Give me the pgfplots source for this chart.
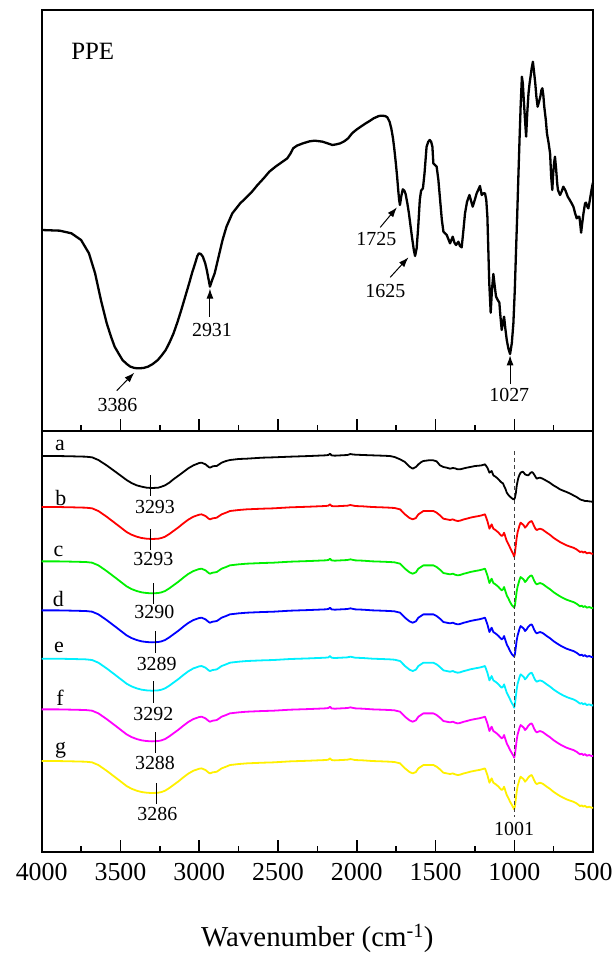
\documentclass[border=0pt]{standalone}
\usepackage{fontspec}
\setmainfont{Liberation Serif}
\usepackage{pgfplots}
\pgfplotsset{compat=1.18}
\usepackage{pgfplotstable}
\usetikzlibrary{arrows.meta}

\definecolor{cA}{RGB}{0,0,0}
\definecolor{cB}{RGB}{255,0,0}
\definecolor{cC}{RGB}{0,240,0}
\definecolor{cD}{RGB}{0,0,255}
\definecolor{cE}{RGB}{0,240,255}
\definecolor{cF}{RGB}{255,0,255}
\definecolor{cG}{RGB}{255,240,0}

\pgfplotstableread{
wn y
4000 690
3885 692
3811 700
3750 720
3700 760
3661 820
3624 900
3587 970
3560 1010
3537 1040
3510 1062
3487 1080
3460 1092
3437 1100
3410 1104
3387 1105
3355 1104
3325 1100
3295 1092
3263 1080
3238 1066
3213 1050
3188 1027
3163 1000
3138 966
3114 930
3089 890
3064 850
3045 818
3026 790
3012 768
3002 760
2990 762
2977 770
2962 790
2952 810
2940 840
2932 860
2918 840
2902 820
2877 770
2852 720
2827 680
2790 640
2740 610
2700 592
2665 575
2630 555
2591 535
2555 515
2516 500
2480 488
2441 475
2420 460
2404 445
2380 437
2342 430
2300 424
2267 422
2217 425
2185 430
2155 435
2130 433
2105 430
2080 424
2055 415
2030 400
2005 390
1975 380
1943 370
1915 362
1893 355
1860 348
1844 347
1820 348
1806 352
1792 365
1781 385
1770 415
1761 450
1752 490
1744 530
1737 570
1731 600
1726 615
1718 590
1708 568
1698 572
1690 582
1679 610
1669 640
1650 710
1638 750
1630 768
1620 745
1610 680
1600 600
1592 572
1580 565
1570 520
1557 440
1546 425
1537 420
1528 425
1520 440
1514 490
1493 500
1482 540
1471 600
1460 660
1450 695
1429 705
1408 730
1391 710
1380 728
1370 735
1355 725
1345 738
1334 742
1323 690
1313 640
1300 605
1285 585
1264 620
1250 598
1239 580
1218 558
1207 585
1196 580
1186 580
1178 600
1171 650
1165 750
1159 850
1150 938
1142 870
1133 822
1124 860
1116 890
1105 900
1095 908
1088 950
1080 990
1072 965
1065 950
1056 990
1048 1020
1038 1045
1027 1062
1016 1030
1006 970
997 870
989 750
982 650
975 540
967 420
960 320
952 230
946 250
940 300
932 360
925 410
918 340
910 280
903 250
897 230
890 205
882 185
875 215
867 250
860 290
852 320
843 305
835 290
828 270
822 265
816 285
810 320
800 360
793 400
782 430
773 460
766 530
759 570
753 520
748 490
742 470
735 505
728 550
723 570
710 585
700 575
689 560
675 572
661 590
648 600
636 610
625 620
614 640
604 655
595 650
587 650
581 675
576 698
569 670
561 640
551 610
545 608
540 615
535 622
530 625
524 610
517 590
510 570
502 550
500 548
}\ppe

\pgfplotstableread{
wn a b c d e f g
4000 110 263 426 573 718 870 1025
3900 110 263 426 573 718 870 1025
3800 111 264 427 574 719 871 1026
3720 112 265 428 575 720 872 1027
3680 114 267 430 577 722 874 1029
3640 122 275 438 585 730 882 1037
3588 138 292 455 602 747 899 1054
3524 160 315 478 625 770 922 1077
3461 182 338 501 648 793 945 1100
3430 191 346 509 656 801 953 1108
3397 198 352 515 662 807 959 1114
3365 202 356 519 666 811 963 1118
3334 205 358 521 668 813 965 1120
3300 206 359 522 669 814 966 1121
3260 205 358 521 668 813 965 1120
3240 202 356 519 666 811 963 1118
3217 198 352 515 662 807 959 1114
3190 190 344 507 654 799 951 1106
3164 180 335 498 645 790 942 1097
3132 169 324 487 634 779 931 1086
3101 158 312 475 622 767 919 1074
3070 147 301 464 611 756 908 1063
3037 138 292 455 602 747 899 1054
3000 131 286 449 596 741 893 1048
2985 130 285 448 595 740 892 1047
2960 135 290 453 600 745 897 1052
2940 143 298 461 608 753 905 1060
2932 145 300 463 610 755 907 1062
2915 141 297 460 607 752 904 1059
2900 140 296 459 606 751 903 1058
2889 140 295 458 605 750 902 1057
2870 134 289 452 599 744 896 1051
2858 130 285 448 595 740 892 1047
2830 125 280 443 590 735 887 1042
2805 122 275 438 585 730 882 1037
2750 119 272 435 582 727 879 1034
2699 118 270 433 580 725 877 1032
2600 115 268 431 578 723 875 1030
2530 114 267 430 577 722 874 1029
2424 112 264 427 574 719 871 1026
2300 110 262 425 572 717 869 1024
2200 108 260 423 570 715 867 1022
2180 107 259 422 569 714 866 1021
2170 103 255 418 565 710 862 1017
2160 108 260 423 570 715 867 1022
2140 109 261 424 571 716 868 1023
2100 108 260 423 570 715 867 1022
2060 107 259 422 569 714 866 1021
2040 104 257 420 567 712 864 1019
2030 105 258 421 568 713 865 1020
2010 106 260 423 570 715 867 1022
1960 107 261 424 571 716 868 1023
1900 108 263 426 573 718 870 1025
1840 109 264 427 574 719 871 1026
1790 110 265 428 575 720 872 1027
1760 113 266 429 576 721 873 1028
1725 120 270 433 580 725 877 1032
1694 128 285 448 595 740 892 1047
1665 142 296 459 606 751 903 1058
1645 148 300 463 610 755 907 1062
1625 143 296 459 606 751 903 1058
1609 135 285 448 595 740 892 1047
1590 128 279 442 589 734 886 1041
1577 125 275 438 585 730 882 1037
1545 123 275 438 585 730 882 1037
1514 123 275 438 585 730 882 1037
1493 126 280 443 590 735 887 1042
1472 138 288 451 598 743 895 1050
1450 143 298 461 608 753 905 1060
1429 145 300 463 610 755 907 1062
1408 148 302 465 612 757 909 1064
1390 146 300 463 610 755 907 1062
1376 147 303 466 613 758 910 1065
1360 150 305 468 615 760 912 1067
1345 150 304 467 614 759 911 1066
1320 147 300 463 610 755 907 1062
1302 145 298 461 608 753 905 1060
1280 143 295 458 605 750 902 1057
1249 140 292 455 602 747 899 1054
1225 139 290 453 600 745 897 1052
1207 138 288 451 598 743 895 1050
1186 135 285 448 595 740 892 1047
1171 145 305 468 615 760 912 1067
1158 160 328 491 638 783 935 1090
1144 155 315 478 625 770 922 1077
1133 168 328 491 638 783 935 1090
1120 172 332 495 642 787 939 1094
1112 175 335 498 645 790 942 1097
1100 180 340 503 650 795 947 1102
1091 185 345 508 655 800 952 1107
1080 190 350 513 660 805 957 1112
1072 192 347 510 657 802 954 1109
1065 200 340 503 650 795 947 1102
1055 210 355 518 665 810 962 1117
1048 220 365 528 675 820 972 1127
1037 227 375 538 685 830 982 1137
1027 232 385 548 695 840 992 1147
1015 237 397 558 705 852 1002 1157
1006 240 405 562 709 858 1009 1165
1001 240 412 565 712 865 1015 1170
996 235 400 557 704 853 1005 1160
990 220 375 535 682 830 982 1137
985 200 355 516 663 810 962 1117
979 185 338 501 648 793 945 1100
974 175 330 493 640 785 937 1092
967 166 318 481 628 773 925 1080
960 160 310 473 620 765 917 1072
947 157 315 478 625 770 922 1077
940 160 318 481 628 773 925 1080
932 165 325 488 635 780 932 1087
922 167 320 483 630 775 927 1082
911 168 312 475 622 767 919 1074
900 162 307 470 617 762 914 1069
890 158 305 468 615 760 912 1067
882 160 312 475 622 767 919 1074
875 165 320 483 630 775 927 1082
866 172 328 491 638 783 935 1090
858 178 332 495 642 787 939 1094
848 176 330 493 640 785 937 1092
837 175 328 491 638 783 935 1090
820 178 331 494 641 786 938 1093
794 185 340 503 650 795 947 1102
775 190 346 509 656 801 953 1108
752 198 355 518 665 810 962 1117
730 204 362 525 672 817 969 1124
710 210 368 531 678 823 975 1130
690 214 373 536 683 828 980 1135
668 218 378 541 688 833 985 1140
645 223 382 545 692 837 989 1144
625 228 385 548 695 840 992 1147
605 233 390 553 700 845 997 1152
583 240 398 561 708 853 1005 1160
572 242 396 559 706 851 1003 1158
562 243 400 563 710 855 1007 1162
552 245 397 560 707 852 1004 1159
540 245 402 565 712 857 1009 1164
525 246 400 563 710 855 1007 1162
509 247 403 566 713 858 1010 1165
500 248 403 566 713 858 1010 1165
}\series

\pgfplotsset{
  ftir/.style={
    scale only axis,
    width=551.4bp,
    x dir=reverse,
    y dir=reverse,
    xmin=500, xmax=4000,
    xtick={500,1000,...,4000},
    minor x tick num=1,
    xtick pos=left,
    ytick=\empty,
    tick align=inside,
    major tick length=12bp,
    minor tick length=6bp,
    every tick/.style={black, line width=1.5bp},
    axis line style={line width=1.8bp},
    clip=false,
    /pgf/number format/assume math mode=true,
    /pgf/number format/1000 sep={},
  },
}
\tikzset{
  annot/.style={font=\fontsize{20}{24}\selectfont, inner sep=0pt},
  letter/.style={font=\fontsize{22}{26}\selectfont, inner sep=0pt},
  arr/.style={line width=1bp, -{Latex[length=10bp,width=7bp]}},
}

\begin{document}
\begin{tikzpicture}
\path[use as bounding box] (-41.7bp,431bp) rectangle (574.3bp,-523bp);

\begin{axis}[ftir,
  at={(0,0)}, anchor=south west,
  height=421bp,
  ymin=30, ymax=1293,
  xticklabels={},
]
\addplot[black, line width=2.3bp, line join=round] table[x=wn, y=y] {\ppe};
\node[font=\fontsize{25}{30}\selectfont, inner sep=0pt] at (axis cs:3676,155) {PPE};
\node[annot] at (axis cs:3519,1215) {3386};
\draw[arr] (axis cs:3524,1172) -- (axis cs:3412,1118);
\node[annot] at (axis cs:2919,990) {2931};
\draw[arr] (axis cs:2932,950) -- (axis cs:2932,866);
\node[annot] at (axis cs:1876,718) {1725};
\draw[arr] (axis cs:1851,682) -- (axis cs:1745,622);
\node[annot] at (axis cs:1819,873) {1625};
\draw[arr] (axis cs:1788,832) -- (axis cs:1672,772);
\node[annot] at (axis cs:1032,1185) {1027};
\draw[arr] (axis cs:1027,1152) -- (axis cs:1027,1066);
\end{axis}

\begin{axis}[ftir,
  at={(0,0)}, anchor=north west,
  height=420.7bp,
  ymin=35, ymax=1297,
  xticklabel style={font=\fontsize{26}{30}\selectfont, yshift=-8bp},
  xlabel={Wavenumber (cm\textsuperscript{-1})},
  xlabel style={font=\fontsize{29}{34}\selectfont, anchor=base, at={(axis description cs:0.5,0)}, yshift=-95bp},
]
\addplot[cA, line width=1.8bp, line join=round] table[x=wn, y=a] {\series};
\addplot[cB, line width=1.8bp, line join=round] table[x=wn, y=b] {\series};
\addplot[cC, line width=1.8bp, line join=round] table[x=wn, y=c] {\series};
\addplot[cD, line width=1.8bp, line join=round] table[x=wn, y=d] {\series};
\addplot[cE, line width=1.8bp, line join=round] table[x=wn, y=e] {\series};
\addplot[cF, line width=1.8bp, line join=round] table[x=wn, y=f] {\series};
\addplot[cG, line width=1.8bp, line join=round] table[x=wn, y=g] {\series};

\draw[black!75, line width=0.9bp, dash pattern=on 4bp off 3bp] (axis cs:1001,95) -- (axis cs:1001,1192);
\node[annot] at (axis cs:1001,1228) {1001};

\node[letter] at (axis cs:3884,78) {a};
\node[letter] at (axis cs:3878,235) {b};
\node[letter] at (axis cs:3894,395) {c};
\node[letter] at (axis cs:3894,540) {d};
\node[letter] at (axis cs:3890,685) {e};
\node[letter] at (axis cs:3884,835) {f};
\node[letter] at (axis cs:3880,992) {g};

\draw[line width=0.9bp] (axis cs:3308,168) -- (axis cs:3308,230);
\node[annot] at (axis cs:3281,263) {3293};
\draw[line width=0.9bp] (axis cs:3308,330) -- (axis cs:3308,392);
\node[annot] at (axis cs:3291,420) {3293};
\draw[line width=0.9bp] (axis cs:3291,492) -- (axis cs:3291,554);
\node[annot] at (axis cs:3285,578) {3290};
\draw[line width=0.9bp] (axis cs:3277,635) -- (axis cs:3277,700);
\node[annot] at (axis cs:3270,735) {3289};
\draw[line width=0.9bp] (axis cs:3291,785) -- (axis cs:3291,852);
\node[annot] at (axis cs:3291,883) {3292};
\draw[line width=0.9bp] (axis cs:3277,938) -- (axis cs:3277,1000);
\node[annot] at (axis cs:3281,1032) {3288};
\draw[line width=0.9bp] (axis cs:3270,1092) -- (axis cs:3270,1155);
\node[annot] at (axis cs:3266,1185) {3286};
\end{axis}
\end{tikzpicture}
\end{document}
